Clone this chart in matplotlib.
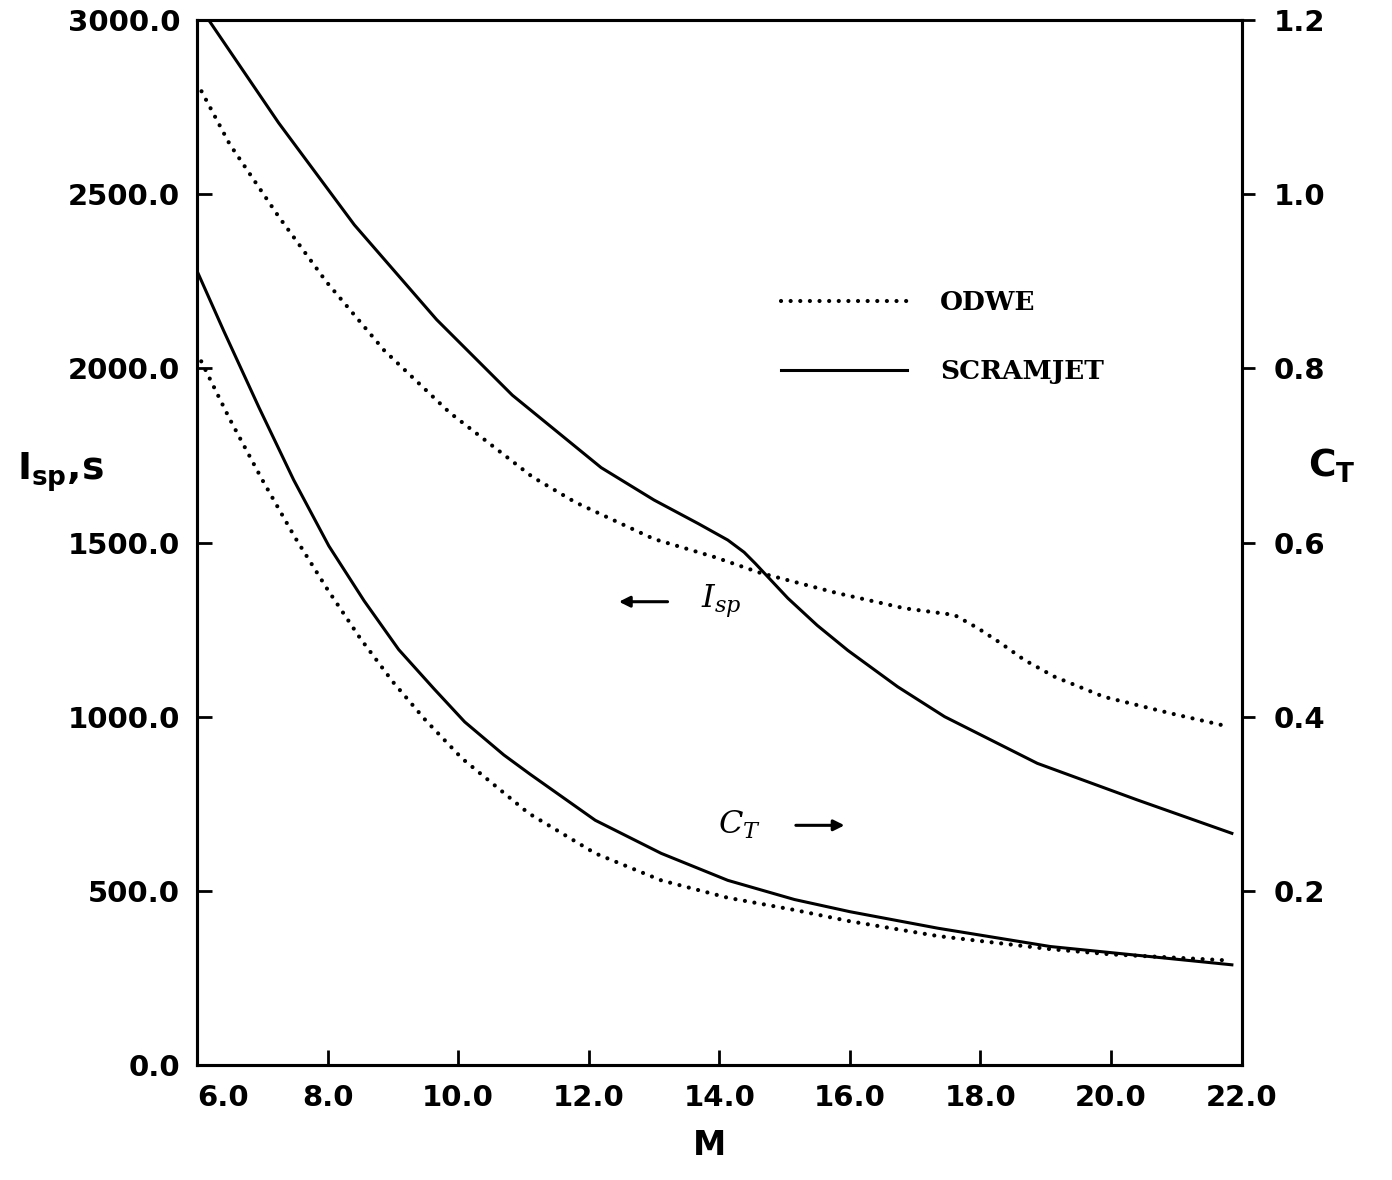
import numpy as np
import matplotlib
matplotlib.use("Agg")
import matplotlib.pyplot as plt

# ---- data ----
# specific impulse, s (left axis)
m_isp_scram = [6.18, 7.25, 8.41, 9.67, 10.83, 12.19, 13.0, 13.68, 14.13, 14.38,
               14.55, 14.75, 15.05, 15.5, 15.97, 16.73, 17.45, 18.87, 20.4, 21.85]
isp_scram = [3000, 2705, 2412, 2140, 1923, 1715, 1622, 1554, 1507, 1472,
             1440, 1400, 1340, 1262, 1190, 1086, 1000, 866, 761, 665]

m_isp_odwe = [6.0, 6.5, 7.25, 7.98, 8.87, 9.87, 11.14, 11.8, 12.45, 13.0, 13.93,
              14.64, 15.82, 16.84, 17.6, 17.96, 18.31, 18.67, 19.13, 19.89, 20.9, 21.81]
isp_odwe = [2820, 2644, 2436, 2249, 2051, 1873, 1688, 1615, 1558, 1510, 1458,
            1412, 1354, 1311, 1292, 1254, 1211, 1163, 1115, 1057, 1010, 971]

# thrust coefficient (right axis)
m_ct_scram = [6.0, 6.41, 6.95, 7.48, 8.02, 8.56, 9.09, 9.63, 10.1, 10.7, 11.1,
              12.1, 13.11, 14.13, 15.15, 16.0, 17.35, 19.07, 21.85]
ct_scram = [0.912, 0.843, 0.755, 0.672, 0.596, 0.533, 0.477, 0.432, 0.394, 0.356, 0.334,
            0.281, 0.243, 0.212, 0.190, 0.176, 0.157, 0.136, 0.115]

m_ct_odwe = [6.0, 6.5, 7.0, 7.5, 8.0, 8.5, 9.0, 9.5, 10.06, 11.08, 12.1,
             13.11, 14.13, 15.15, 16.0, 17.35, 19.07, 20.0, 21.8]
ct_odwe = [0.818, 0.742, 0.672, 0.606, 0.546, 0.490, 0.440, 0.396, 0.352, 0.289, 0.243,
           0.212, 0.192, 0.178, 0.165, 0.148, 0.133, 0.127, 0.120]

x_ticks = [8.0, 10.0, 12.0, 14.0, 16.0, 18.0, 20.0, 22.0]
isp_ticks = [0, 500, 1000, 1500, 2000, 2500, 3000]
ct_ticks = [0.2, 0.4, 0.6, 0.8, 1.0, 1.2]

# ---- styling ----
tick_font = dict(family="DejaVu Sans", weight="bold", size=21)
lw = 2.2
dot_style = dict(linestyle=(0, (0.01, 2.3)), dash_capstyle="round", lw=3.0, color="black")
solid_style = dict(linestyle="-", lw=lw, color="black")

fig = plt.figure(figsize=(13.92, 11.8), dpi=100)
ax = fig.add_axes([0.1415, 0.0975, 0.7505, 0.8855])
ax2 = ax.twinx()

ax.plot(m_isp_odwe, isp_odwe, label="ODWE", **dot_style)
ax.plot(m_isp_scram, isp_scram, label="SCRAMJET", **solid_style)
ax2.plot(m_ct_odwe, ct_odwe, **dot_style)
ax2.plot(m_ct_scram, ct_scram, **solid_style)

ax.set_xlim(6.0, 22.0)
ax.set_ylim(0, 3000)
ax2.set_ylim(0, 1.2)

ax.set_xticks([6.0] + x_ticks)
ax.set_xticklabels(["6.0"] + ["%.1f" % v for v in x_ticks], fontdict=tick_font)
ax.set_yticks(isp_ticks)
ax.set_yticklabels(["%.1f" % v for v in isp_ticks], fontdict=tick_font)
ax2.set_yticks(ct_ticks)
ax2.set_yticklabels(["%.1f" % v for v in ct_ticks], fontdict=tick_font)

ax.tick_params(axis="both", direction="in", length=11, width=2, pad=12)
ax.tick_params(axis="x", pad=14)
ax2.tick_params(axis="y", direction="out", length=9, width=2, pad=14)
ax.xaxis.get_major_ticks()[0].tick1line.set_visible(False)
ax.xaxis.get_majorticklabels()[0].set_horizontalalignment("left")

for a in (ax, ax2):
    for s in a.spines.values():
        s.set_linewidth(lw)

# legend
leg = ax.legend(loc="upper left", bbox_to_anchor=(0.546, 0.754), frameon=False,
                handlelength=4.8, handletextpad=1.25, labelspacing=1.65, borderpad=0,
                prop=dict(family="DejaVu Serif", weight="bold", size=19))

# in-plot annotations
arrow = dict(arrowstyle="-|>", color="black", lw=2.2, mutation_scale=16)
ax.annotate("", xy=(12.42, 1330), xytext=(13.25, 1330), arrowprops=arrow)
ax.text(13.72, 1330, r"$\mathit{I_{sp}}$", fontsize=23, math_fontfamily="dejavuserif",
        ha="left", va="center", fontweight="bold")
ax.text(13.98, 688, r"$\mathit{C_T}$", fontsize=23, math_fontfamily="dejavuserif",
        ha="left", va="center", fontweight="bold")
ax.annotate("", xy=(15.96, 688), xytext=(15.13, 688), arrowprops=arrow)

# axis titles
fig.text(0.043, 0.6, r"$\mathbf{I_{sp}}$,s", fontsize=27, fontweight="bold",
         math_fontfamily="dejavusans", ha="center", va="center")
fig.text(0.957, 0.605, r"$\mathbf{C_T}$", fontsize=27,
         math_fontfamily="dejavusans", ha="center", va="center")
fig.text(0.51, 0.015, "M", fontsize=24, fontweight="bold", ha="center", va="bottom")

fig.savefig("out.png", dpi=100)
